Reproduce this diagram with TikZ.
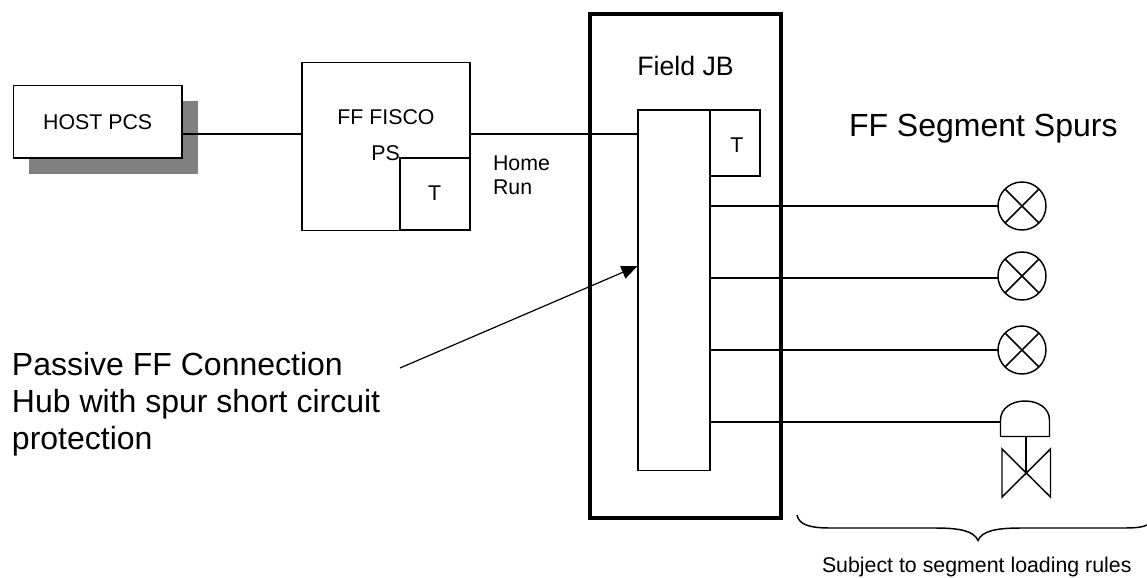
\documentclass[tikz,border=0pt]{standalone}
\usepackage{fontspec}
\setmainfont{Liberation Sans}
\usetikzlibrary{arrows.meta}
\tikzset{
  every node/.style={inner sep=0pt,outer sep=0pt},
  wire/.style={line width=1.1pt,draw=black},
  boxa/.style={rectangle,draw=black,line width=1.1pt,fill=white},
  heavy/.style={rectangle,draw=black,line width=3pt,fill=white},
  dev/.style={circle,draw=black,line width=1.1pt,fill=white,minimum size=36pt},
  small/.style={font=\fontsize{16}{18.3}\selectfont},
  big/.style={font=\fontsize{24}{27.75}\selectfont}
}
\begin{document}
\begin{tikzpicture}[x=0.75pt,y=-0.75pt]
\useasboundingbox (0,0) rectangle (1147,578);
\fill[fill={rgb,255:red,128;green,128;blue,128}] (29,101) rectangle (198,174);
\node[boxa,anchor=north west,minimum width=126.4pt,minimum height=54.4pt] (host) at (13.5,85.5) {};
\node[small,anchor=base] (hostlabel) at (97.7,129) {HOST PCS};
\node[boxa,anchor=north west,minimum width=126pt,minimum height=126pt] (ps) at (302,62.5) {};
\node[boxa,anchor=north west,minimum width=52.5pt,minimum height=54pt] (pst) at (400,158) {};
\node[small,anchor=base] (pstlabel) at (434.6,200.7) {T};
\node[small,anchor=base] (fisco) at (386,124) {FF FISCO};
\node[small,anchor=base] (pslabel) at (385.5,160.7) {PS};
\node[small,anchor=west,align=left] (home) at (493,175) {Home\\Run};
\node[heavy,anchor=north west,minimum width=143.5pt,minimum height=378pt] (jb) at (590,14) {};
\node[font=\fontsize{20}{24}\selectfont,anchor=base] (jblabel) at (685.5,75) {Field JB};
\node[boxa,anchor=north west,minimum width=54pt,minimum height=270.5pt] (hub) at (638,110) {};
\node[boxa,anchor=north west,minimum width=37.5pt,minimum height=49.5pt] (hubt) at (710,110) {};
\node[small,anchor=base] (hubtlabel) at (737,152.7) {T};
\coordinate (hubin) at (638,134);
\coordinate (s1) at (710,206);
\coordinate (s2) at (710,278);
\coordinate (s3) at (710,350);
\coordinate (s4) at (710,422);
\draw[wire] (host.east |- 0,134) -- (ps.west |- 0,134);
\draw[wire] (ps.east |- 0,134) -- (hubin);
\node[dev] (d1) at (1022,206) {};
\node[dev] (d2) at (1022,276) {};
\node[dev] (d3) at (1022,350) {};
\draw[wire] (d1.north west) -- (d1.south east) (d1.north east) -- (d1.south west);
\draw[wire] (d2.north west) -- (d2.south east) (d2.north east) -- (d2.south west);
\draw[wire] (d3.north west) -- (d3.south east) (d3.north east) -- (d3.south west);
\draw[wire] (s1) -- (d1.west);
\draw[wire] (s2) -- (d2.west |- s2);
\draw[wire] (s3) -- (d3.west);
\coordinate (actl) at (1000.5,422);
\draw[wire] (s4) -- (actl);
\coordinate (acttop) at (1025,401);
\coordinate (stemtop) at (1026,436.5);
\coordinate (stembot) at (1026,472.5);
\draw[wire,line join=round] (1000.5,436.5) -- (1000.5,420) .. controls (1000.5,408) and (1012,401) .. (acttop) .. controls (1038,401) and (1049.5,408) .. (1049.5,420) -- (1049.5,436.5) -- cycle;
\draw[wire] (stemtop) -- (stembot);
\draw[wire,line join=miter] (1002,449) -- (1002,497) -- (1050.5,449) -- (1050.5,497) -- cycle;
\coordinate (arrowstart) at (400,368);
\coordinate (arrowend) at (637.5,266);
\draw[line width=0.9pt,-{Triangle[length=12pt,width=10pt]}] (arrowstart) -- (arrowend);
\draw[wire] (797,515) .. controls (799,524) and (808,528) .. (830,528) -- (935,528) .. controls (960,528) and (974,531) .. (978,540.5) .. controls (982,531) and (996,528) .. (1021,528) -- (1125,528) .. controls (1136,528) and (1143,527) .. (1147,525);
\node[big,anchor=base west] (spurs) at (849,136.7) {FF Segment Spurs};
\node[big,anchor=west,align=left] (passive) at (12,404) {Passive FF Connection\\Hub with spur short circuit\\protection};
\node[small,anchor=base west] (subject) at (822,572.5) {Subject to segment loading rules};
\end{tikzpicture}
\end{document}
